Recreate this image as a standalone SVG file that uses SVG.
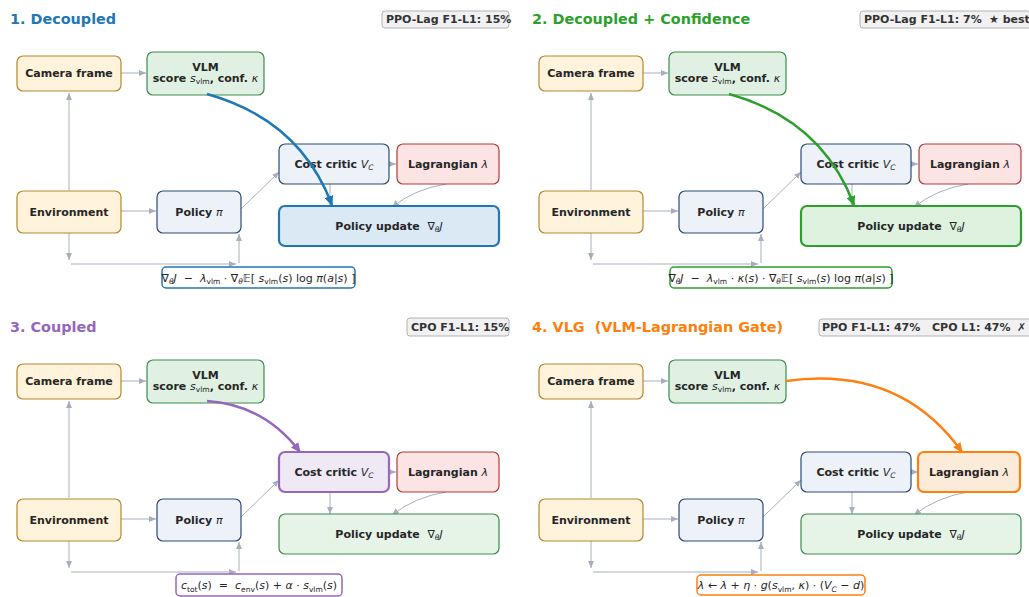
<svg xmlns="http://www.w3.org/2000/svg" width="1029" height="597" viewBox="0 0 1029 597">
<style>
text{font-family:"DejaVu Sans","Liberation Sans",sans-serif;fill:#262626}
.n{font-size:11px;font-weight:bold;text-anchor:middle}
.m{font-weight:normal;font-style:italic}
.s{font-size:7.5px;font-weight:normal}
.i{font-style:italic}
.ttl{font-size:14.4px;font-weight:bold}
.bt{font-size:11px;font-weight:bold;fill:#333}
.f{font-size:11px;text-anchor:middle}
.badge{fill:#f1f1f3;stroke:#b3b3b3;stroke-width:1}
.cam{fill:#fff3dc;stroke:#b5872c;stroke-width:1.2}
.vlm{fill:#e0f0e2;stroke:#3d8b4f;stroke-width:1.2}
.pol{fill:#edf1f8;stroke:#2c4a7c;stroke-width:1.2}
.lag{fill:#fbe4e3;stroke:#b23b3b;stroke-width:1.2}
.pu{fill:#e6f4e8;stroke:#3d8b4f;stroke-width:1.2}
.c{stroke:#a7afbf;stroke-width:1;fill:none;marker-end:url(#ag)}
.fb{fill:#fff;stroke-width:1.5}
</style>
<defs>
<marker id="ag" markerUnits="userSpaceOnUse" markerWidth="7" markerHeight="6" refX="7" refY="3" orient="auto"><path d="M0,0 L7,3 L0,6 z" fill="#a7afbf"/></marker>
<marker id="ab" markerUnits="userSpaceOnUse" markerWidth="10" markerHeight="9" refX="9" refY="4.5" orient="auto"><path d="M0,0 L10,4.5 L0,9 z" fill="#1f77b4"/></marker>
<marker id="agr" markerUnits="userSpaceOnUse" markerWidth="10" markerHeight="9" refX="9" refY="4.5" orient="auto"><path d="M0,0 L10,4.5 L0,9 z" fill="#2ca02c"/></marker>
<marker id="ap" markerUnits="userSpaceOnUse" markerWidth="10" markerHeight="9" refX="9" refY="4.5" orient="auto"><path d="M0,0 L10,4.5 L0,9 z" fill="#9467bd"/></marker>
<marker id="ao" markerUnits="userSpaceOnUse" markerWidth="10" markerHeight="9" refX="9" refY="4.5" orient="auto"><path d="M0,0 L10,4.5 L0,9 z" fill="#ff7f0e"/></marker>
</defs>
<rect width="1029" height="597" fill="#fff"/>

<!-- Panel 1 -->
<g id="panel1">
<text class="ttl" x="10" y="24" style="fill:#1f77b4">1. Decoupled</text>
<g id="p1-badge"><rect class="badge" x="382" y="11" width="127" height="17" rx="3"/><text class="bt" x="386" y="23">PPO-Lag F1-L1: 15%</text></g>
<g id="p1-connectors">
<path class="c" d="M121,73 L146,73"/>
<path class="c" d="M69,190 L69,93"/>
<path class="c" d="M121,211 L156,211"/>
<path class="c" d="M241,209 L279,172"/>
<path class="c" d="M389,164 L396,164"/>
<path class="c" d="M330,184 L330,206"/>
<path class="c" d="M446,184 Q415,189 392,207"/>
<path class="c" d="M69,233 L69,260"/>
<path class="c" d="M71,264 L236,264"/>
<path class="c" d="M239,263 L239,234"/>
</g>
<g id="p1-camera"><rect class="cam" x="17" y="56" width="104" height="35" rx="6"/><text class="n" x="69" y="77">Camera frame</text></g>
<g id="p1-vlm"><rect class="vlm" x="147" y="52" width="117" height="43" rx="6"/><text class="n" x="205.5" y="71">VLM</text><text class="n" x="205.5" y="82">score <tspan class="m">s</tspan><tspan class="s" dy="2">vlm</tspan><tspan dy="-2">, conf. </tspan><tspan class="m">κ</tspan></text></g>
<g id="p1-env"><rect class="cam" x="17" y="191" width="104" height="42" rx="6"/><text class="n" x="69" y="215.5">Environment</text></g>
<g id="p1-policy"><rect class="pol" x="157" y="191" width="84" height="42" rx="6"/><text class="n" x="199" y="215.5">Policy <tspan class="m">π</tspan></text></g>
<g id="p1-cost"><rect class="pol" x="279" y="144" width="110" height="40" rx="6"/><text class="n" x="334" y="168">Cost critic <tspan class="m">V</tspan><tspan class="s i" dy="2">C</tspan></text></g>
<g id="p1-lag"><rect class="lag" x="397" y="144" width="102" height="40" rx="6"/><text class="n" x="448" y="168">Lagrangian <tspan class="m">λ</tspan></text></g>
<g id="p1-update"><rect x="279" y="206" width="220" height="40" rx="6" fill="#dbe9f5" stroke="#1f77b4" stroke-width="2.2"/><text class="n" x="389" y="230" xml:space="preserve">Policy update  <tspan font-weight="normal">∇</tspan><tspan class="s i" dy="2">θ</tspan><tspan class="m" dy="-2">J</tspan></text></g>
<path d="M207,94 Q300,120 332,205" fill="none" stroke="#1f77b4" stroke-width="2.5" marker-end="url(#ab)"/>
<g id="p1-formula"><rect class="fb" x="162" y="267" width="193" height="21" rx="4" stroke="#1f77b4"/><text class="f" x="258.5" y="281.5" xml:space="preserve">∇<tspan class="s i" dy="2.5">θ</tspan><tspan class="i" dy="-2.5">J</tspan>  −  <tspan class="i">λ</tspan><tspan class="s" dy="2.5">vlm</tspan><tspan dy="-2.5"> · ∇</tspan><tspan class="s i" dy="2.5">θ</tspan><tspan dy="-2.5">𝔼[ </tspan><tspan class="i">s</tspan><tspan class="s" dy="2.5">vlm</tspan><tspan dy="-2.5">(</tspan><tspan class="i">s</tspan>) log <tspan class="i">π</tspan>(<tspan class="i">a</tspan>|<tspan class="i">s</tspan>) ]</text></g>
</g>

<!-- Panel 2 -->
<g id="panel2">
<text class="ttl" x="532" y="24" style="fill:#2ca02c">2. Decoupled + Confidence</text>
<g id="p2-badge"><rect class="badge" x="860" y="11" width="180" height="17" rx="3"/><text class="bt" x="864" y="23">PPO-Lag F1-L1: 7%</text><text class="bt" x="989" y="23">★ best</text></g>
<g transform="translate(522,0)">
<g id="p2-connectors">
<path class="c" d="M121,73 L146,73"/>
<path class="c" d="M69,190 L69,93"/>
<path class="c" d="M121,211 L156,211"/>
<path class="c" d="M241,209 L279,172"/>
<path class="c" d="M389,164 L396,164"/>
<path class="c" d="M330,184 L330,206"/>
<path class="c" d="M446,184 Q415,189 392,207"/>
<path class="c" d="M69,233 L69,260"/>
<path class="c" d="M71,264 L236,264"/>
<path class="c" d="M239,263 L239,234"/>
</g>
<g id="p2-camera"><rect class="cam" x="17" y="56" width="104" height="35" rx="6"/><text class="n" x="69" y="77">Camera frame</text></g>
<g id="p2-vlm"><rect class="vlm" x="147" y="52" width="117" height="43" rx="6"/><text class="n" x="205.5" y="71">VLM</text><text class="n" x="205.5" y="82">score <tspan class="m">s</tspan><tspan class="s" dy="2">vlm</tspan><tspan dy="-2">, conf. </tspan><tspan class="m">κ</tspan></text></g>
<g id="p2-env"><rect class="cam" x="17" y="191" width="104" height="42" rx="6"/><text class="n" x="69" y="215.5">Environment</text></g>
<g id="p2-policy"><rect class="pol" x="157" y="191" width="84" height="42" rx="6"/><text class="n" x="199" y="215.5">Policy <tspan class="m">π</tspan></text></g>
<g id="p2-cost"><rect class="pol" x="279" y="144" width="110" height="40" rx="6"/><text class="n" x="334" y="168">Cost critic <tspan class="m">V</tspan><tspan class="s i" dy="2">C</tspan></text></g>
<g id="p2-lag"><rect class="lag" x="397" y="144" width="102" height="40" rx="6"/><text class="n" x="448" y="168">Lagrangian <tspan class="m">λ</tspan></text></g>
<g id="p2-update"><rect x="279" y="206" width="220" height="40" rx="6" fill="#dff2df" stroke="#2ca02c" stroke-width="2.2"/><text class="n" x="389" y="230" xml:space="preserve">Policy update  <tspan font-weight="normal">∇</tspan><tspan class="s i" dy="2">θ</tspan><tspan class="m" dy="-2">J</tspan></text></g>
<path d="M207,94 Q300,120 332,205" fill="none" stroke="#2ca02c" stroke-width="2.5" marker-end="url(#agr)"/>
<g id="p2-formula"><rect class="fb" x="148" y="267" width="222" height="21" rx="4" stroke="#2ca02c"/><text class="f" x="259" y="281.5" xml:space="preserve">∇<tspan class="s i" dy="2.5">θ</tspan><tspan class="i" dy="-2.5">J</tspan>  −  <tspan class="i">λ</tspan><tspan class="s" dy="2.5">vlm</tspan><tspan dy="-2.5"> · </tspan><tspan class="i">κ</tspan>(<tspan class="i">s</tspan>) · ∇<tspan class="s i" dy="2.5">θ</tspan><tspan dy="-2.5">𝔼[ </tspan><tspan class="i">s</tspan><tspan class="s" dy="2.5">vlm</tspan><tspan dy="-2.5">(</tspan><tspan class="i">s</tspan>) log <tspan class="i">π</tspan>(<tspan class="i">a</tspan>|<tspan class="i">s</tspan>) ]</text></g>
</g>
</g>

<!-- Panel 3 -->
<g id="panel3">
<text class="ttl" x="10" y="332" style="fill:#9467bd">3. Coupled</text>
<g id="p3-badge"><rect class="badge" x="407" y="318" width="102" height="18" rx="3"/><text class="bt" x="411" y="331">CPO F1-L1: 15%</text></g>
<g transform="translate(0,308)">
<g id="p3-connectors">
<path class="c" d="M121,73 L146,73"/>
<path class="c" d="M69,190 L69,93"/>
<path class="c" d="M121,211 L156,211"/>
<path class="c" d="M241,209 L279,172"/>
<path class="c" d="M389,164 L396,164"/>
<path class="c" d="M330,184 L330,206"/>
<path class="c" d="M446,184 Q415,189 392,207"/>
<path class="c" d="M69,233 L69,260"/>
<path class="c" d="M71,264 L236,264"/>
<path class="c" d="M239,263 L239,234"/>
</g>
<g id="p3-camera"><rect class="cam" x="17" y="56" width="104" height="35" rx="6"/><text class="n" x="69" y="77">Camera frame</text></g>
<g id="p3-vlm"><rect class="vlm" x="147" y="52" width="117" height="43" rx="6"/><text class="n" x="205.5" y="71">VLM</text><text class="n" x="205.5" y="82">score <tspan class="m">s</tspan><tspan class="s" dy="2">vlm</tspan><tspan dy="-2">, conf. </tspan><tspan class="m">κ</tspan></text></g>
<g id="p3-env"><rect class="cam" x="17" y="191" width="104" height="42" rx="6"/><text class="n" x="69" y="215.5">Environment</text></g>
<g id="p3-policy"><rect class="pol" x="157" y="191" width="84" height="42" rx="6"/><text class="n" x="199" y="215.5">Policy <tspan class="m">π</tspan></text></g>
<g id="p3-cost"><rect x="279" y="144" width="110" height="40" rx="6" fill="#efe8f5" stroke="#9467bd" stroke-width="2.2"/><text class="n" x="334" y="168">Cost critic <tspan class="m">V</tspan><tspan class="s i" dy="2">C</tspan></text></g>
<g id="p3-lag"><rect class="lag" x="397" y="144" width="102" height="40" rx="6"/><text class="n" x="448" y="168">Lagrangian <tspan class="m">λ</tspan></text></g>
<g id="p3-update"><rect class="pu" x="279" y="206" width="220" height="40" rx="6"/><text class="n" x="389" y="230" xml:space="preserve">Policy update  <tspan font-weight="normal">∇</tspan><tspan class="s i" dy="2">θ</tspan><tspan class="m" dy="-2">J</tspan></text></g>
<path d="M207,93 Q265,97 300,144" fill="none" stroke="#9467bd" stroke-width="2.5" marker-end="url(#ap)"/>
<g id="p3-formula"><rect class="fb" x="176" y="266" width="166" height="22" rx="4" stroke="#9467bd"/><text class="f" x="259" y="281" xml:space="preserve"><tspan class="i">c</tspan><tspan class="s" dy="2.5">tot</tspan><tspan dy="-2.5">(</tspan><tspan class="i">s</tspan>)  =  <tspan class="i">c</tspan><tspan class="s" dy="2.5">env</tspan><tspan dy="-2.5">(</tspan><tspan class="i">s</tspan>) + <tspan class="i">α</tspan> · <tspan class="i">s</tspan><tspan class="s" dy="2.5">vlm</tspan><tspan dy="-2.5">(</tspan><tspan class="i">s</tspan>)</text></g>
</g>
</g>

<!-- Panel 4 -->
<g id="panel4">
<text class="ttl" x="532" y="332" style="fill:#ff7f0e" xml:space="preserve">4. VLG  (VLM-Lagrangian Gate)</text>
<g id="p4-badge"><rect class="badge" x="819" y="319" width="220" height="17" rx="3"/><text class="bt" x="822" y="331">PPO F1-L1: 47%</text><text class="bt" x="932" y="331">CPO L1: 47%</text><text class="bt" x="1017" y="331">✗</text></g>
<g transform="translate(522,308)">
<g id="p4-connectors">
<path class="c" d="M121,73 L146,73"/>
<path class="c" d="M69,190 L69,93"/>
<path class="c" d="M121,211 L156,211"/>
<path class="c" d="M241,209 L279,172"/>
<path class="c" d="M389,164 L396,164"/>
<path class="c" d="M330,184 L330,206"/>
<path class="c" d="M446,184 Q415,189 392,207"/>
<path class="c" d="M69,233 L69,260"/>
<path class="c" d="M71,264 L236,264"/>
<path class="c" d="M239,263 L239,234"/>
</g>
<g id="p4-camera"><rect class="cam" x="17" y="56" width="104" height="35" rx="6"/><text class="n" x="69" y="77">Camera frame</text></g>
<g id="p4-vlm"><rect class="vlm" x="147" y="52" width="117" height="43" rx="6"/><text class="n" x="205.5" y="71">VLM</text><text class="n" x="205.5" y="82">score <tspan class="m">s</tspan><tspan class="s" dy="2">vlm</tspan><tspan dy="-2">, conf. </tspan><tspan class="m">κ</tspan></text></g>
<g id="p4-env"><rect class="cam" x="17" y="191" width="104" height="42" rx="6"/><text class="n" x="69" y="215.5">Environment</text></g>
<g id="p4-policy"><rect class="pol" x="157" y="191" width="84" height="42" rx="6"/><text class="n" x="199" y="215.5">Policy <tspan class="m">π</tspan></text></g>
<g id="p4-cost"><rect class="pol" x="279" y="144" width="110" height="40" rx="6"/><text class="n" x="334" y="168">Cost critic <tspan class="m">V</tspan><tspan class="s i" dy="2">C</tspan></text></g>
<g id="p4-lag"><rect x="396" y="144" width="102" height="40" rx="6" fill="#fdebd9" stroke="#ff7f0e" stroke-width="2.2"/><text class="n" x="447" y="168">Lagrangian <tspan class="m">λ</tspan></text></g>
<g id="p4-update"><rect class="pu" x="279" y="206" width="220" height="40" rx="6"/><text class="n" x="389" y="230" xml:space="preserve">Policy update  <tspan font-weight="normal">∇</tspan><tspan class="s i" dy="2">θ</tspan><tspan class="m" dy="-2">J</tspan></text></g>
<path d="M264,73 Q378,57 440,144" fill="none" stroke="#ff7f0e" stroke-width="2.5" marker-end="url(#ao)"/>
<g id="p4-formula"><rect class="fb" x="175" y="267" width="168" height="20" rx="4" stroke="#ff7f0e"/><text class="f" x="259" y="281" xml:space="preserve"><tspan class="i">λ</tspan> ← <tspan class="i">λ</tspan> + <tspan class="i">η</tspan> · <tspan class="i">g</tspan>(<tspan class="i">s</tspan><tspan class="s" dy="2.5">vlm</tspan><tspan dy="-2.5">, </tspan><tspan class="i">κ</tspan>) · (<tspan class="i">V</tspan><tspan class="s i" dy="2.5">C</tspan><tspan dy="-2.5"> − </tspan><tspan class="i">d</tspan>)</text></g>
</g>
</g>
</svg>
